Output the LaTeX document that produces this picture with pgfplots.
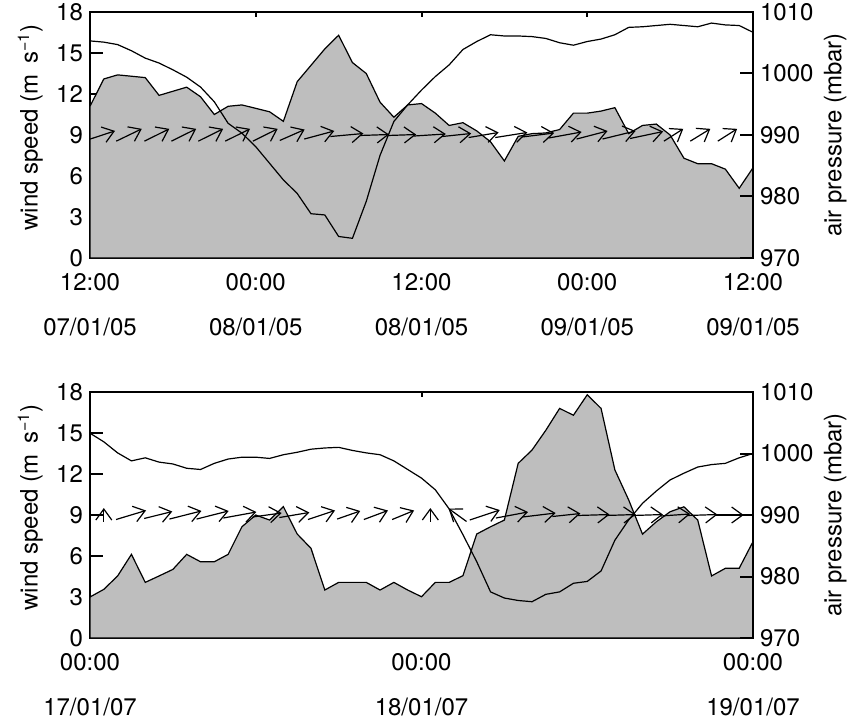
\documentclass[border=0pt]{standalone}
\usepackage{fontspec}
\setmainfont{TeX Gyre Heros}
\usepackage{pgfplots}
\usepackage{pgfplotstable}
\pgfplotsset{compat=1.18}
\usetikzlibrary{arrows.meta}
\definecolor{areagray}{RGB}{190,190,190}

\pgfplotstableread{
t ws p
0 11.1 1005.3
1 13.1 1005.1
2 13.4 1004.7
3 13.3 1003.7
4 13.2 1002.5
5 11.9 1001.7
6 12.2 1000.6
7 12.5 999.4
8 11.8 997.8
9 10.5 995.4
10 11.1 991.9
11 11.2 990.3
12 10.95 988.1
13 10.7 985.4
14 10.0 982.7
15 12.9 980.5
16 14.1 977.2
17 15.3 977.0
18 16.3 973.5
19 14.3 973.2
20 13.5 979.2
21 11.4 986.7
22 10.3 992.2
23 11.2 994.9
24 11.3 997.3
25 10.6 999.5
26 9.7 1001.4
27 9.9 1003.9
28 9.3 1005.2
29 8.5 1006.3
30 7.1 1006.1
31 8.9 1006.1
32 9.1 1006.0
33 9.15 1005.7
34 9.4 1005.0
35 10.6 1004.6
36 10.6 1005.2
37 10.75 1005.6
38 11.0 1006.3
39 9.1 1007.5
40 9.7 1007.6
41 9.8 1007.8
42 9.0 1008.0
43 7.3 1007.8
44 6.9 1007.6
45 6.9 1008.2
46 6.5 1007.9
47 5.1 1007.8
48 6.6 1006.7
}\topdata

\pgfplotstableread{
t ws p
0 3.0 1003.3
1 3.56 1001.9
2 4.54 1000.1
3 6.12 998.8
4 4.07 999.3
5 4.54 998.6
6 5.02 998.3
7 6.12 997.6
8 5.58 997.4
9 5.58 998.4
10 6.12 999.1
11 8.14 999.4
12 9.0 999.4
13 8.63 999.2
14 9.61 999.8
15 7.61 1000.2
16 6.56 1000.7
17 3.51 1000.9
18 4.07 1001.0
19 4.07 1000.5
20 4.07 1000.1
21 3.51 999.8
22 4.07 998.8
23 3.51 997.4
24 3.02 996.0
25 4.07 994.1
26 4.07 991.0
27 4.56 986.8
28 7.61 982.4
29 8.14 977.5
30 8.63 976.5
31 12.78 976.1
32 13.75 975.9
33 15.2 977.1
34 16.8 977.5
35 16.3 978.9
36 17.8 979.2
37 16.8 980.9
38 12.3 985.9
39 10.1 989.2
40 7.6 991.9
41 8.5 993.9
42 9.24 995.7
43 9.6 996.8
44 8.63 997.8
45 4.54 998.2
46 5.1 998.4
47 5.1 999.3
48 7.05 1000.0
}\botdata

\pgfplotstableread{
x y u v
0.00 8.70 1.81 0.60
1.90 8.55 1.85 0.90
3.94 8.55 1.80 0.90
5.89 8.55 1.80 0.90
7.84 8.55 1.80 0.90
9.79 8.55 1.80 0.90
11.79 8.55 1.80 0.90
13.74 8.60 1.80 0.80
15.515 8.705 2.17 0.59
17.405 8.89 2.39 0.22
19.55 8.965 2.10 0.07
21.585 8.965 2.03 0.07
23.44 8.925 2.32 0.15
25.50 8.89 2.10 0.22
27.415 8.815 2.17 0.37
29.34 8.815 2.32 0.37
31.29 8.855 2.32 0.29
33.205 8.78 2.39 0.44
35.23 8.705 2.24 0.59
37.105 8.705 2.39 0.59
39.105 8.745 2.39 0.51
41.55 8.55 1.40 0.90
43.46 8.55 1.45 0.90
45.45 8.55 1.40 0.90
}\toparrows

\pgfplotstableread{
x y u v
1.0 8.49 0 1.02
1.885 8.67 2.17 0.66
3.925 8.745 2.03 0.51
5.75 8.705 2.32 0.59
7.72 8.705 2.32 0.59
9.655 8.78 2.39 0.44
11.77 8.855 2.10 0.29
13.705 8.815 2.17 0.37
15.78 8.67 1.96 0.66
17.895 8.705 1.67 0.59
19.83 8.67 1.74 0.66
21.875 8.67 1.59 0.66
24.64 8.49 0 1.02
27.26 8.525 -1.30 0.95
27.495 8.635 2.17 0.73
29.39 8.78 2.32 0.44
31.325 8.855 2.39 0.29
33.475 8.89 2.03 0.22
35.30 8.965 2.32 0.07
37.345 8.965 2.17 0.07
39.315 8.965 2.17 0.07
41.285 8.925 2.17 0.15
43.255 8.965 2.17 0.07
45.295 9.0 2.03 0
}\botarrows

\pgfplotsset{
  panel/.style={
    scale only axis, width=331.5pt, height=123pt,
    xmin=0, xmax=48,
    tick align=inside,
    axis line style={line width=1pt},
    every tick/.style={line width=1pt, black},
    tick label style={font=\fontsize{12}{14}\selectfont},
    label style={font=\fontsize{12}{14}\selectfont},
    /pgf/number format/assume math mode=true,
    /pgf/number format/set thousands separator={},
  },
  leftax/.style={panel, ymin=0, ymax=18, ytick={0,3,...,18}, ytick pos=left, xtick pos=both,
    y tick style={/pgfplots/major tick length=6.5pt},
    x tick style={/pgfplots/major tick length=2.5pt},
    xticklabel style={align=center, yshift=-4pt},
    ylabel={wind speed (m\, s\textsuperscript{−1})},
    ylabel style={at={(axis description cs:-0.09,0.53)}, anchor=center}},
  rightax/.style={panel, ymin=970, ymax=1010, ytick={970,980,...,1010},
    axis y line*=right, axis x line=none,
    y tick style={/pgfplots/major tick length=6.5pt},
    ylabel={air pressure (mbar)},
    ylabel style={at={(axis description cs:1.124,0.5)}, anchor=center}},
  arrowplot/.style={quiver={u=\thisrow{u}, v=\thisrow{v},
      every arrow/.append style={-{Straight Barb[length=5.5pt,width=8pt]}}},
    -{Straight Barb[length=5.5pt,width=8pt]}, line width=0.6pt, black},
}

\begin{document}
\begin{tikzpicture}
\path[use as bounding box] (0,0) rectangle (424.5pt,362pt);
% top panel
\begin{axis}[leftax, at={(45pt,233pt)}, anchor=south west,
  xtick={0,12,24,36,48},
  xticklabels={{12:00\\[8.5pt]07/01/05},{00:00\\[8.5pt]08/01/05},{12:00\\[8.5pt]08/01/05},{00:00\\[8.5pt]09/01/05},{12:00\\[8.5pt]09/01/05}}]
\addplot[draw=black, line width=0.6pt, fill=areagray] table[x=t,y=ws] \topdata \closedcycle;
\addplot[arrowplot] table[x=x,y=y] \toparrows;
\end{axis}
\begin{axis}[rightax, at={(45pt,233pt)}, anchor=south west]
\addplot[black, line width=0.6pt] table[x=t,y=p] \topdata;
\end{axis}
% bottom panel
\begin{axis}[leftax, at={(45pt,43pt)}, anchor=south west,
  xtick={0,24,48},
  xticklabels={{00:00\\[8.5pt]17/01/07},{00:00\\[8.5pt]18/01/07},{00:00\\[8.5pt]19/01/07}}]
\addplot[draw=black, line width=0.6pt, fill=areagray] table[x=t,y=ws] \botdata \closedcycle;
\addplot[arrowplot] table[x=x,y=y] \botarrows;
\end{axis}
\begin{axis}[rightax, at={(45pt,43pt)}, anchor=south west]
\addplot[black, line width=0.6pt] table[x=t,y=p] \botdata;
\end{axis}
\end{tikzpicture}
\end{document}
